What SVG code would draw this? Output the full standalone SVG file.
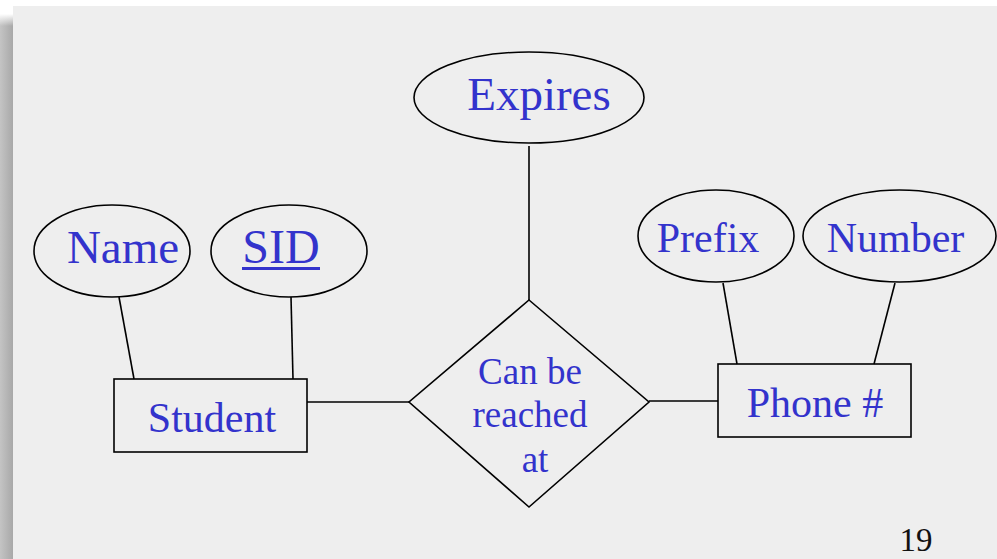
<svg xmlns="http://www.w3.org/2000/svg" width="997" height="559" viewBox="0 0 997 559">
<defs>
<linearGradient id="sh" x1="0" y1="0" x2="1" y2="0">
<stop offset="0" stop-color="#c4c4c4"/>
<stop offset="1" stop-color="#a6a6a6"/>
</linearGradient>
<linearGradient id="shTop" x1="0" y1="0" x2="0" y2="1">
<stop offset="0" stop-color="#ffffff"/>
<stop offset="1" stop-color="#ffffff" stop-opacity="0"/>
</linearGradient>
<style>
.shape{fill:none;stroke:#000;stroke-width:1.6}
.lbl{font-family:"Liberation Serif","Times New Roman",serif;fill:#3333cc;text-anchor:middle}
.edge{stroke:#000;stroke-width:1.6;fill:none}
</style>
</defs>
<rect x="0" y="0" width="997" height="559" fill="#ffffff"/>
<rect x="0" y="14" width="14" height="545" fill="url(#sh)"/>
<rect x="0" y="14" width="14" height="12" fill="url(#shTop)"/>
<rect x="13" y="6" width="984" height="553" fill="#eeeeee"/>
<g id="connectors">
<line class="edge" x1="119" y1="297" x2="134" y2="379"/>
<line class="edge" x1="291" y1="297" x2="293" y2="379"/>
<line class="edge" x1="307" y1="402" x2="409" y2="402"/>
<line class="edge" x1="529" y1="146" x2="529" y2="300"/>
<line class="edge" x1="649" y1="401" x2="718" y2="401"/>
<line class="edge" x1="723" y1="283" x2="737" y2="364"/>
<line class="edge" x1="895" y1="283" x2="874" y2="364"/>
</g>
<g id="name">
<ellipse class="shape" cx="112" cy="251" rx="78" ry="46"/>
<text class="lbl" x="123" y="263" font-size="47">Name</text>
</g>
<g id="sid">
<ellipse class="shape" cx="289" cy="251" rx="78" ry="46"/>
<text class="lbl" x="281" y="263" font-size="48">SID</text>
<line x1="242" y1="268.5" x2="320" y2="268.5" stroke="#3333cc" stroke-width="3"/>
</g>
<g id="student">
<rect class="shape" x="114" y="379" width="193" height="73"/>
<text class="lbl" x="212" y="432" font-size="42">Student</text>
</g>
<g id="expires">
<ellipse class="shape" cx="529" cy="97.5" rx="115" ry="45.5"/>
<text class="lbl" x="539" y="110" font-size="47">Expires</text>
</g>
<g id="reached">
<polygon class="shape" points="529,300 649,402 529,507 409,402"/>
<text class="lbl" x="530" y="384" font-size="37">Can be</text>
<text class="lbl" x="530" y="427" font-size="37">reached</text>
<text class="lbl" x="535" y="472" font-size="37">at</text>
</g>
<g id="phone">
<rect class="shape" x="718" y="364" width="193" height="73"/>
<text class="lbl" x="815" y="417" font-size="42">Phone #</text>
</g>
<g id="prefix">
<ellipse class="shape" cx="716" cy="236" rx="78" ry="46"/>
<text class="lbl" x="708" y="252" font-size="42">Prefix</text>
</g>
<g id="number">
<ellipse class="shape" cx="899.5" cy="236" rx="96.5" ry="46"/>
<text class="lbl" x="895.5" y="252" font-size="42">Number</text>
</g>
<text x="916" y="551" font-family="Liberation Serif,serif" font-size="33" fill="#111" text-anchor="middle">19</text>
</svg>
